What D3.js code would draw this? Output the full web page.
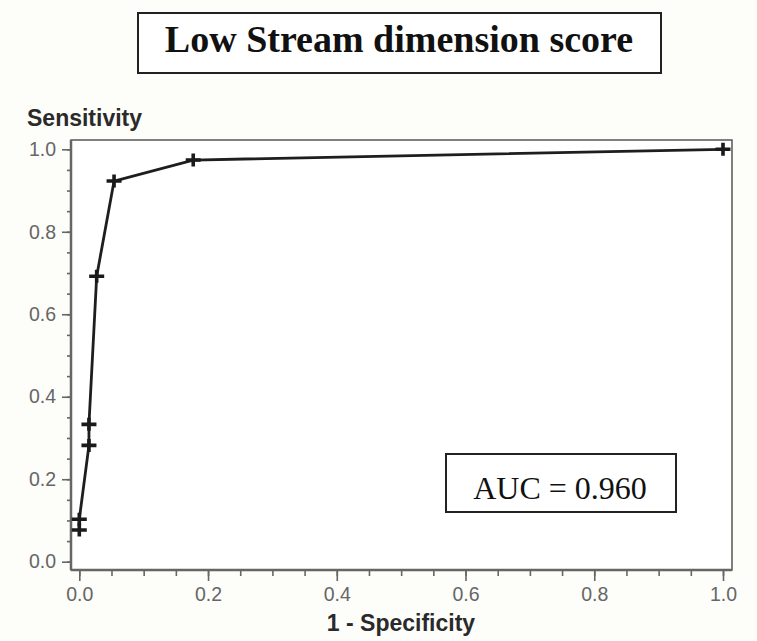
<!DOCTYPE html>
<html>
<head>
<meta charset="utf-8">
<script src="https://cdn.jsdelivr.net/npm/d3@7"></script>
<style>
  html, body { margin: 0; padding: 0; background: #fdfdfa; }
  svg { display: block; }
</style>
</head>
<body>
<div id="roc_chart"></div>
<script>
// ROC points
const fpr = [0, 0, 0.015, 0.015, 0.027, 0.054, 0.177, 1.0]
const tpr = [0.077, 0.103, 0.282, 0.333, 0.692, 0.923, 0.974, 1.0]
const majorTicks = [0, 0.2, 0.4, 0.6, 0.8, 1.0]
const minorTicks = d3.range(0, 1.0001, 0.05)
const titleText = 'Low Stream dimension score'
const aucText = 'AUC = 0.960'
const xLabel = '1 - Specificity'
const yLabel = 'Sensitivity'

const width = 757,
  height = 641

const svg = d3
  .select('#roc_chart')
  .append('svg')
  .attr('width', width)
  .attr('height', height)

svg.append('rect').attr('width', width).attr('height', height).attr('fill', '#fdfdfa')

// scales: 0..1 maps inside the frame, frame sticks out a little
const x = d3.scaleLinear().domain([0, 1]).range([79.3, 723])
const y = d3.scaleLinear().domain([0, 1]).range([561.7, 149.3])
const frame = { left: 71, right: 732, top: 140, bottom: 570 }

// title box
svg
  .append('rect')
  .attr('x', 138)
  .attr('y', 13)
  .attr('width', 523)
  .attr('height', 60)
  .attr('fill', '#fff')
  .attr('stroke', '#222')
  .attr('stroke-width', 2)
svg
  .append('text')
  .attr('x', 399)
  .attr('y', 52)
  .attr('text-anchor', 'middle')
  .style('font-family', '"Liberation Serif", "Times New Roman", serif')
  .style('font-weight', 'bold')
  .style('font-size', '38px')
  .attr('fill', '#111')
  .text(titleText)

// plot frame
svg
  .append('rect')
  .attr('x', frame.left)
  .attr('y', frame.top)
  .attr('width', frame.right - frame.left)
  .attr('height', frame.bottom - frame.top)
  .attr('fill', '#fff')
  .attr('stroke', '#555')
  .attr('stroke-width', 1.5)

// minor ticks
const xMinor = svg
  .append('g')
  .attr('transform', `translate(0,${frame.bottom})`)
  .call(d3.axisBottom(x).tickValues(minorTicks).tickSize(6).tickSizeOuter(0).tickFormat(''))
const yMinor = svg
  .append('g')
  .attr('transform', `translate(${frame.left},0)`)
  .call(d3.axisLeft(y).tickValues(minorTicks).tickSize(4).tickSizeOuter(0).tickFormat(''))

// major ticks with labels
const xAxis = svg
  .append('g')
  .attr('transform', `translate(0,${frame.bottom})`)
  .call(d3.axisBottom(x).tickValues(majorTicks).tickSize(11).tickSizeOuter(0).tickPadding(6).tickFormat(d3.format('.1f')))
const yAxis = svg
  .append('g')
  .attr('transform', `translate(${frame.left},0)`)
  .call(d3.axisLeft(y).tickValues(majorTicks).tickSize(9).tickSizeOuter(0).tickPadding(6).tickFormat(d3.format('.1f')))

;[xMinor, yMinor, xAxis, yAxis].forEach((g) => {
  g.select('.domain').remove()
  g.selectAll('line').attr('stroke', '#666').attr('stroke-width', 1.6)
  g.selectAll('text')
    .attr('fill', '#666')
    .style('font-family', '"Liberation Sans", Arial, sans-serif')
    .style('font-size', '19.5px')
})

// heavier left and bottom axis lines
svg
  .append('line')
  .attr('x1', frame.left)
  .attr('x2', frame.left)
  .attr('y1', frame.top)
  .attr('y2', frame.bottom)
  .attr('stroke', '#666')
  .attr('stroke-width', 2.5)
svg
  .append('line')
  .attr('x1', frame.left)
  .attr('x2', frame.right)
  .attr('y1', frame.bottom)
  .attr('y2', frame.bottom)
  .attr('stroke', '#666')
  .attr('stroke-width', 2.5)

// axis titles
svg
  .append('text')
  .attr('x', 27)
  .attr('y', 126)
  .style('font-family', '"Liberation Sans", Arial, sans-serif')
  .style('font-weight', 'bold')
  .style('font-size', '23px')
  .attr('fill', '#2a2a2a')
  .text(yLabel)
svg
  .append('text')
  .attr('x', 401)
  .attr('y', 631)
  .attr('text-anchor', 'middle')
  .style('font-family', '"Liberation Sans", Arial, sans-serif')
  .style('font-weight', 'bold')
  .style('font-size', '23px')
  .attr('fill', '#2a2a2a')
  .text(xLabel)

// ROC curve
const points = fpr.map((d, i) => ({ fpr: d, tpr: tpr[i] }))
const line = d3
  .line()
  .x((d) => x(d.fpr))
  .y((d) => y(d.tpr))
svg
  .append('path')
  .datum(points)
  .attr('d', line)
  .attr('fill', 'none')
  .attr('stroke', '#1e1e1e')
  .attr('stroke-width', 2.8)

// plus markers
svg
  .selectAll('.marker')
  .data(points)
  .join('path')
  .attr('class', 'marker')
  .attr('transform', (d) => `translate(${x(d.fpr)},${y(d.tpr)})`)
  .attr('d', 'M-7.5,0H7.5M0,-6.5V6.5')
  .attr('stroke', '#1a1a1a')
  .attr('stroke-width', 3.6)
  .attr('fill', 'none')

// AUC box
svg
  .append('rect')
  .attr('x', 446)
  .attr('y', 454)
  .attr('width', 230)
  .attr('height', 58)
  .attr('fill', '#fff')
  .attr('stroke', '#222')
  .attr('stroke-width', 2)
svg
  .append('text')
  .attr('x', 560)
  .attr('y', 499)
  .attr('text-anchor', 'middle')
  .style('font-family', '"Liberation Serif", "Times New Roman", serif')
  .style('font-size', '32px')
  .attr('fill', '#111')
  .text(aucText)
</script>
</body>
</html>
